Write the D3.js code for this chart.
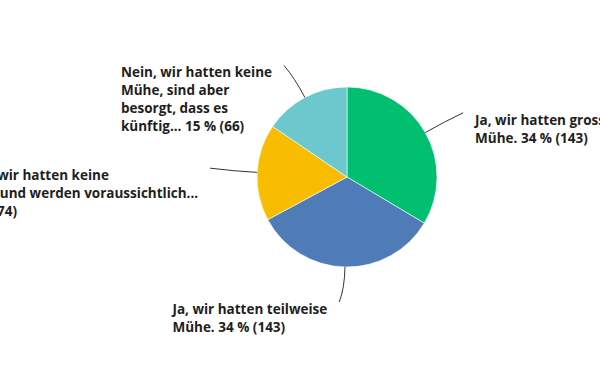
<!DOCTYPE html>
<html>
<head>
<meta charset="utf-8">
<script src="https://cdn.jsdelivr.net/npm/d3@7"></script>
<style>
  html, body { margin: 0; padding: 0; background: #fff; }
  svg { display: block; }
  text { font-family: "Open Sans", "Noto Sans", sans-serif; font-weight: 700; fill: #1e1e1e; }
</style>
</head>
<body>
<svg id="chart" width="600" height="380"></svg>
<script>
// ---- data ----
const categories = [
  "Ja, wir hatten grosse Mühe.",
  "Ja, wir hatten teilweise Mühe.",
  "Nein, wir hatten keine Mühe und werden voraussichtlich...",
  "Nein, wir hatten keine Mühe, sind aber besorgt, dass es künftig..."
];
const counts = [143, 143, 74, 66];
const percents = [34, 34, 17, 15];
const colors = ["#00BF6F", "#4F7CB6", "#F8BD00", "#6CC8CC"];
// label line breaks (as in the reference)
const labelLines = [
  ["Ja, wir hatten grosse", "Mühe. 34 % (143)"],
  ["Ja, wir hatten teilweise", "Mühe. 34 % (143)"],
  ["Nein, wir hatten keine", "Mühe und werden voraussichtlich...", "17 % (74)"],
  ["Nein, wir hatten keine", "Mühe, sind aber", "besorgt, dass es", "künftig... 15 % (66)"]
];

// ---- layout ----
const cx = 347, cy = 177, R = 90;
const leaderR = [122, 125, 132, 124];
const fontSize = 13.5, lineH = 18;

const svg = d3.select("#chart");
const g = svg.append("g").attr("transform", `translate(${cx},${cy})`);

const pie = d3.pie().sort(null).value(d => d.count);
const data = categories.map((c, i) => ({ cat: c, count: counts[i], pct: percents[i], color: colors[i], lines: labelLines[i], idx: i }));
const arcs = pie(data);
const arc = d3.arc().innerRadius(0).outerRadius(R);

g.selectAll("path.slice").data(arcs).enter().append("path")
  .attr("class", "slice")
  .attr("d", arc)
  .attr("fill", d => d.data.color)
  .attr("stroke", "#fff")
  .attr("stroke-width", 0.6);

function polar(r, a) { return [r * Math.sin(a), -r * Math.cos(a)]; }

arcs.forEach((d, i) => {
  const mid = (d.startAngle + d.endAngle) / 2;
  const p0 = polar(R, mid);
  const pc = polar(R + 22, mid);
  const right = Math.sin(mid) > 0.3;
  const bottom = Math.cos(mid) < -0.9;
  let pe = polar(leaderR[i], mid);
  if (bottom) pe = [pe[0] - 5, pe[1]];
  else if (right) pe = [pe[0] + 10, pe[1] - 4];
  else pe = [pe[0] - 5, pe[1] - 2];
  g.append("path")
    .attr("d", `M${p0[0]},${p0[1]} Q${pc[0]},${pc[1]} ${pe[0]},${pe[1]}`)
    .attr("fill", "none")
    .attr("stroke", "#333")
    .attr("stroke-width", 1);

  const t = g.append("text").attr("font-size", fontSize);
  d.data.lines.forEach((ln, k) => {
    t.append("tspan").attr("x", 0).attr("dy", k === 0 ? 0 : lineH).text(ln);
  });
  const w = d3.max(t.selectAll("tspan").nodes(), n => n.getComputedTextLength());
  const tx = right ? pe[0] + 12 : pe[0] - 12 - w;
  const ty = pe[1] + 12;
  t.attr("transform", `translate(${tx},${ty})`);
});
</script>
</body>
</html>
